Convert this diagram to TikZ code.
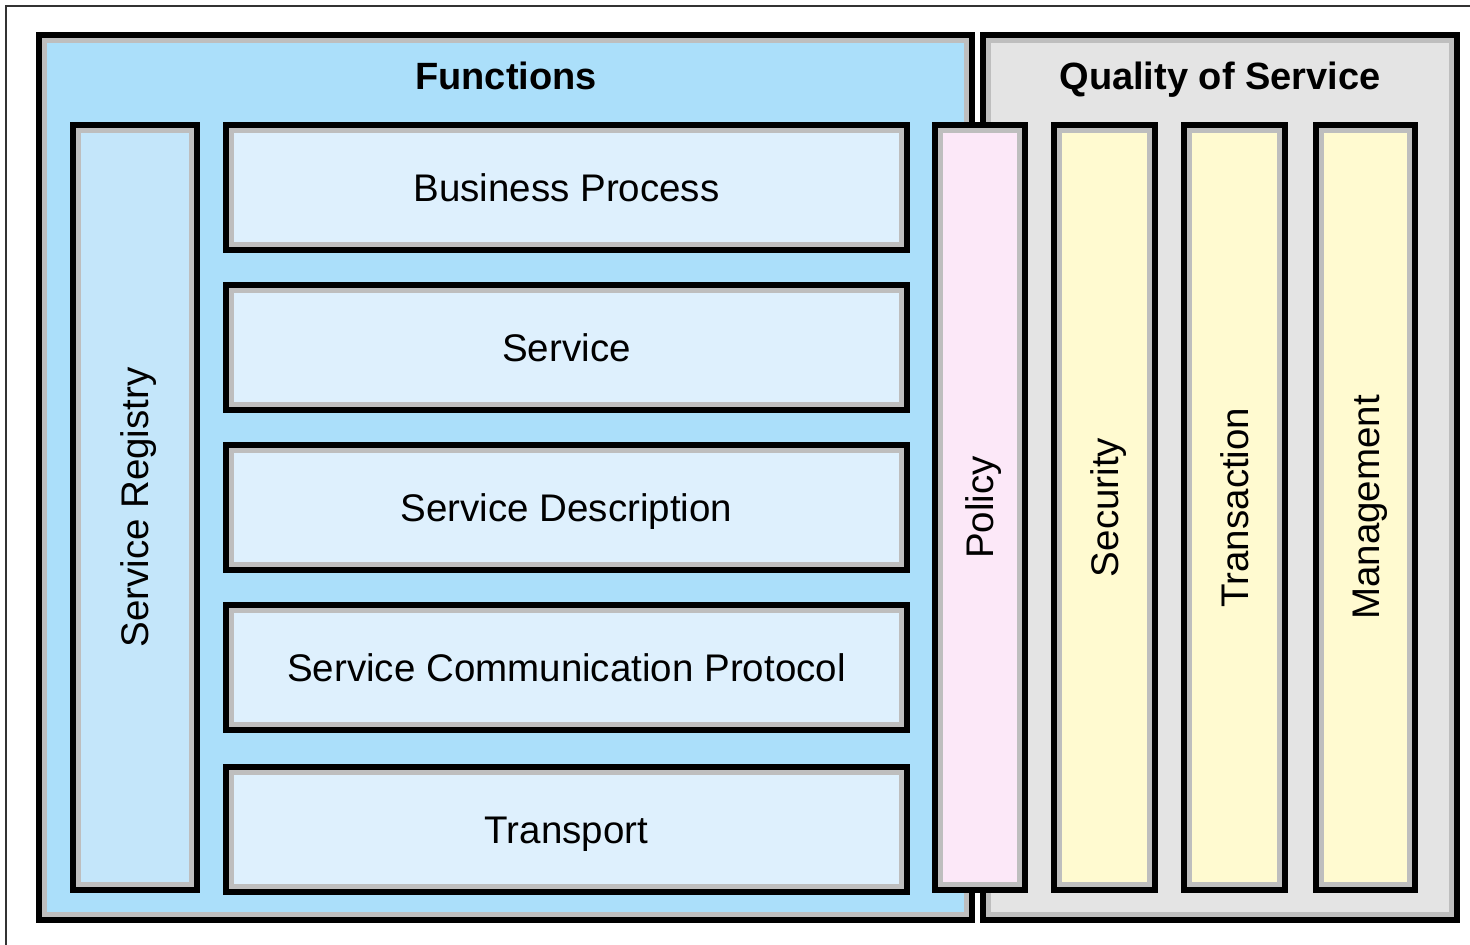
\documentclass[tikz,border=0pt]{standalone}
\usepackage{fontspec}
\setmainfont{Liberation Sans}

\definecolor{funcblue}{RGB}{171,223,250}
\definecolor{regblue}{RGB}{196,230,250}
\definecolor{layerblue}{RGB}{222,240,253}
\definecolor{policypink}{RGB}{252,232,248}
\definecolor{qosyellow}{RGB}{255,250,208}
\definecolor{qosgrey}{RGB}{228,228,228}
\definecolor{rimgrey}{RGB}{190,190,190}

\tikzset{
  box/.style={preaction={draw=black,line width=17},draw=rimgrey,line width=5,
    fill=#1,inner sep=0pt,font=\fontsize{38.5}{46}\selectfont,
    text height=27.6pt,text depth=0pt},
  title/.style={font=\fontsize{38}{46}\selectfont\bfseries,inner sep=0pt,
    text height=27.2pt,text depth=0pt},
  layer/.style={box=layerblue,minimum width=670,minimum height=114},
  pillar/.style={box=#1,rotate=90,minimum width=754}
}

\begin{document}
\begin{tikzpicture}[x=1pt,y=-1pt]

  \useasboundingbox (0,0) rectangle (1470,945);
  \draw[line width=2.5,black!80] (6,945) -- (6,6) -- (1470,6);

  % the two groups
  \node[box=funcblue,minimum width=922,minimum height=874] (func) at (505.5,477.5) {};
  \node[box=qosgrey,minimum width=463,minimum height=874] (qos) at (1220,477.5) {};
  \node[title] (functitle) at (506,76) {Functions};
  \node[title] (qostitle) at (1220,76) {Quality of Service};

  % functions
  \node[pillar=regblue,minimum height=113] (reg) at (135,507.5) {Service Registry};
  \node[layer] (bp)    at (566.5,187.5) {Business Process};
  \node[layer] (svc)   at (566.5,347.5) {Service};
  \node[layer] (desc)  at (566.5,507.5) {Service Description};
  \node[layer] (scp)   at (566.5,667.5) {Service Communication Protocol};
  \node[layer] (trans) at (566.5,829.5) {Transport};

  % policy and quality of service
  \node[pillar=policypink,minimum height=79] (policy) at (980,507.5) {Policy};
  \node[pillar=qosyellow,minimum height=90] (sec)  at (1104.5,507.5) {Security};
  \node[pillar=qosyellow,minimum height=90] (tx)   at (1234.5,507.5) {Transaction};
  \node[pillar=qosyellow,minimum height=88] (mgmt) at (1365.5,507.5) {Management};

\end{tikzpicture}
\end{document}
